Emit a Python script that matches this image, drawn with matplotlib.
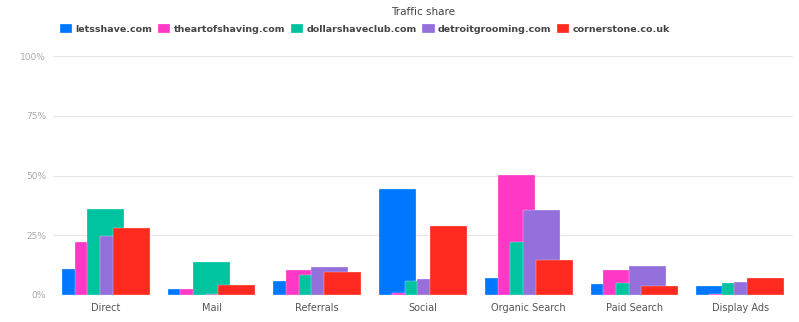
import numpy as np
import matplotlib.pyplot as plt

categories = ["Direct", "Mail", "Referrals", "Social", "Organic Search", "Paid Search", "Display Ads"]
sites = ["letsshave.com", "theartofshaving.com", "dollarshaveclub.com", "detroitgrooming.com", "cornerstone.co.uk"]

letsshave = [10.8, 2.5, 6.0, 44.4, 7.0, 4.6, 3.8]
theartofshaving = [22.0, 2.5, 10.6, 0.7, 50.3, 10.3, 0.4]
dollarshaveclub = [35.9, 13.9, 8.4, 5.9, 22.0, 5.0, 5.0]
detroitgrooming = [24.8, 0.4, 11.8, 6.8, 35.6, 12.1, 5.4]
cornerstone = [27.9, 4.3, 9.6, 29.0, 14.6, 3.9, 7.2]

series = [letsshave, theartofshaving, dollarshaveclub, detroitgrooming, cornerstone]
colors = ["#0077ff", "#ff38c5", "#00c3a0", "#9370db", "#ff2a1f"]

fig = plt.figure(figsize=(7.99, 3.22), dpi=100)
ax = fig.add_axes([53/799, 27/322, 740/799, 239/322])

x = np.arange(len(categories))
offsets = [-0.24, -0.12, 0, 0.12, 0.24]
for vals, off, c, name in zip(series, offsets, colors, sites):
    ax.bar(x + off, vals, width=0.35, color=c, label=name, zorder=3,
           edgecolor="white", linewidth=0.2)

ax.set_xlim(-0.5, 6.5)
ax.set_ylim(0, 100)
ax.set_yticks([0, 25, 50, 75, 100])
ax.set_yticklabels(["0%", "25%", "50%", "75%", "100%"])
ax.set_xticks(x)
ax.set_xticklabels(categories)
ax.grid(axis="y", color="#e6e6e6", linewidth=0.8, zorder=0)
ax.tick_params(axis="y", length=0, labelsize=6.5, labelcolor="#aaaaaa", pad=5)
ax.tick_params(axis="x", length=0, labelsize=7, labelcolor="#555555", pad=6)
for s in ax.spines.values():
    s.set_visible(False)

fig.text(423/799, 1 - 12/322, "Traffic share", ha="center", va="center",
         fontsize=7.5, color="#444444")

leg = fig.legend(loc="center left", bbox_to_anchor=(60/799, 1 - 29/322), ncol=5,
                 frameon=False, borderpad=0, handlelength=1.3, handleheight=1.05,
                 handletextpad=0.35, columnspacing=0.6, borderaxespad=0,
                 prop={"size": 6.8, "weight": "bold"})
for t in leg.get_texts():
    t.set_color("#444444")

fig.savefig("out.png", dpi=100)
